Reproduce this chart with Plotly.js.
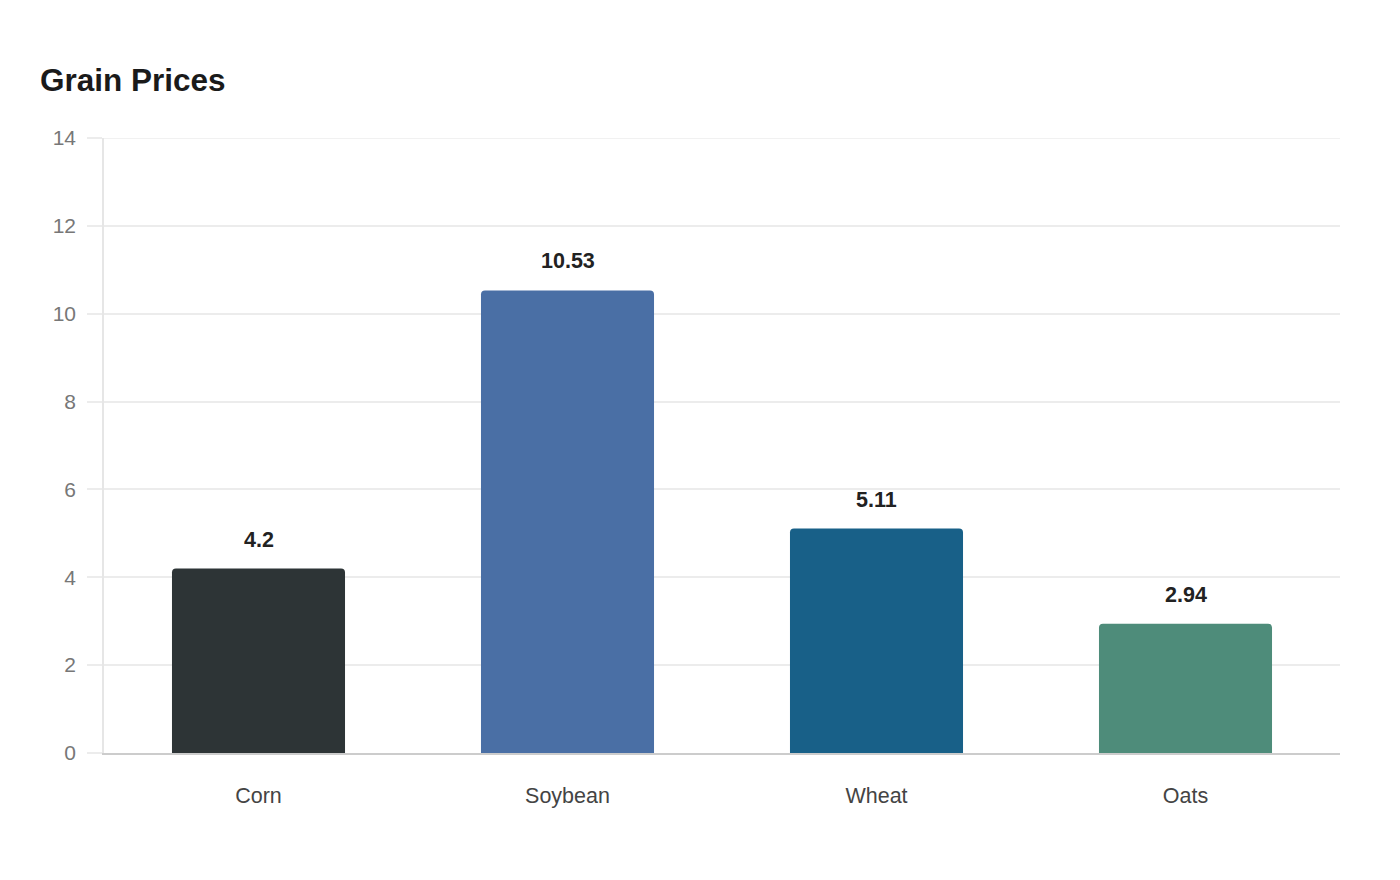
<!DOCTYPE html>
<html>
<head>
<meta charset="utf-8">
<script src="https://cdn.plot.ly/plotly-3.0.1.min.js"></script>
<style>
  html, body { margin: 0; padding: 0; background: #fff; }
  #chart { width: 1400px; height: 880px; }
</style>
</head>
<body>
<div id="chart"></div>
<script>
// grain prices
const grains = ['Corn', 'Soybean', 'Wheat', 'Oats'];
const prices = [4.2, 10.53, 5.11, 2.94];
const barColors = ['#2d3436', '#4a6fa5', '#186088', '#4e8c7a'];
const yTicks = [0, 2, 4, 6, 8, 10, 12, 14];
const yMax = yTicks[yTicks.length - 1];

var trace = {
  x: grains,
  y: prices,
  type: 'bar',
  marker: { color: barColors, cornerradius: 4 },
  hoverinfo: 'x+y'
};

// value labels above the bars
var labels = grains.map((g, i) => ({
  x: g,
  y: prices[i],
  text: String(prices[i]),
  showarrow: false,
  yanchor: 'middle',
  yshift: 29,
  font: { family: 'Liberation Sans, Arial, sans-serif', size: 21.5, color: '#222', weight: 'bold' }
}));

var layout = {
  width: 1400,
  height: 880,
  margin: { l: 104, r: 60, t: 138, b: 127 },
  paper_bgcolor: '#fff',
  plot_bgcolor: '#fff',
  font: { family: 'Liberation Sans, Arial, sans-serif', color: '#444' },
  title: {
    text: '<b>Grain Prices</b>',
    x: 40 / 1400, xref: 'container', xanchor: 'left',
    y: 1, yref: 'container', yanchor: 'top',
    pad: { t: 69 },
    font: { size: 31.5, color: '#1a1a1a' }
  },
  bargap: 0.44,
  showlegend: false,
  xaxis: {
    type: 'category',
    showgrid: false,
    showline: true,
    linecolor: '#ccc',
    linewidth: 1.5,
    ticks: '',
    ticklabelstandoff: 22,
    tickfont: { size: 21.5, color: '#444' },
    fixedrange: true
  },
  yaxis: {
    range: [0, yMax],
    tickvals: yTicks,
    showgrid: true,
    gridcolor: '#ececec',
    gridwidth: 1.5,
    zeroline: false,
    showline: true,
    linecolor: '#e6e6e6',
    linewidth: 1.5,
    ticks: 'outside',
    ticklen: 15,
    tickcolor: '#ececec',
    tickwidth: 1.5,
    ticklabelstandoff: 7,
    tickfont: { size: 21, color: '#777' },
    fixedrange: true
  },
  // top gridline (plotly drops the one on the range edge)
  shapes: [{
    type: 'line', xref: 'paper', yref: 'y',
    x0: 0, x1: 1, y0: yMax, y1: yMax,
    layer: 'below',
    line: { color: '#ececec', width: 1.5 }
  }],
  annotations: labels
};

Plotly.newPlot('chart', [trace], layout, { displayModeBar: false, displaylogo: false });
</script>
</body>
</html>
